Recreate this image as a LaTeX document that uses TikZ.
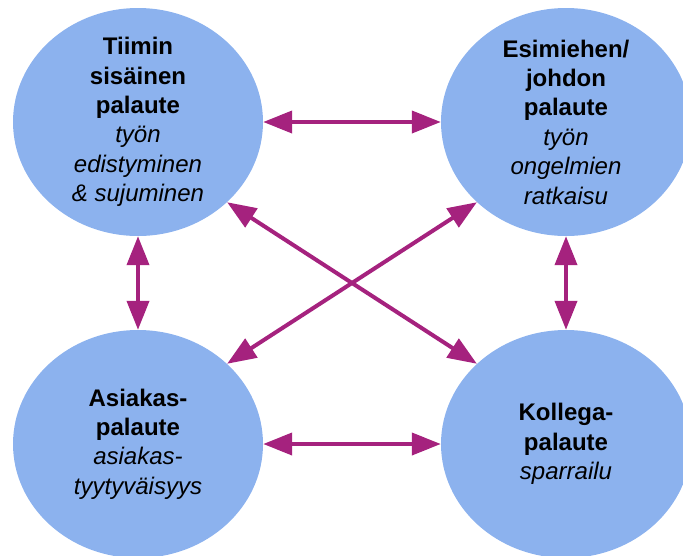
\documentclass[tikz,border=0pt]{standalone}
\usepackage{fontspec}
\setmainfont{Liberation Sans}
\usetikzlibrary{arrows.meta,shapes.geometric}
\definecolor{blobfill}{RGB}{140,178,238}
\definecolor{linkcol}{RGB}{165,34,126}
\tikzset{
  blob/.style={ellipse, fill=blobfill, draw=none, minimum width=250pt, minimum height=228pt, inner sep=0pt},
  caption/.style={align=center, font=\fontsize{24}{29.4}\selectfont, inner sep=0pt},
  link/.style={draw=linkcol, line width=4pt,
    {Triangle[length=29pt,width=22pt]}-{Triangle[length=29pt,width=22pt]}, shorten <=0pt, shorten >=0pt}
}
\begin{document}
\begin{tikzpicture}[x=1pt,y=-1pt]
  \useasboundingbox (0,0) rectangle (683,555);

  % four feedback sources
  \node[blob] (tl) at (138,122) {};
  \node[blob] (tr) at (566,122) {};
  \node[blob] (bl) at (138,444) {};
  \node[blob] (br) at (566,444) {};

  \node[caption] at (tl) {\textbf{Tiimin}\\\textbf{sisäinen}\\\textbf{palaute}\\\textit{työn}\\\textit{edistyminen}\\\textit{\& sujuminen}};
  \node[caption] at (tr) {\textbf{Esimiehen/}\\\textbf{johdon}\\\textbf{palaute}\\\textit{työn}\\\textit{ongelmien}\\\textit{ratkaisu}};
  \node[caption] at (bl) {\textbf{Asiakas-}\\\textbf{palaute}\\\textit{asiakas-}\\\textit{tyytyväisyys}};
  \node[caption] at (br) {\textbf{Kollega-}\\\textbf{palaute}\\\textit{sparrailu}};

  % two-way links
  \draw[link] (tl.east) -- (tr.west);
  \draw[link] (bl.east) -- (br.west);
  \draw[link] (tl.south) -- (bl.north);
  \draw[link] (tr.south) -- (br.north);
  \draw[link] (tl.-42) -- (br.138);
  \draw[link] (tr.-138) -- (bl.42);
\end{tikzpicture}
\end{document}
